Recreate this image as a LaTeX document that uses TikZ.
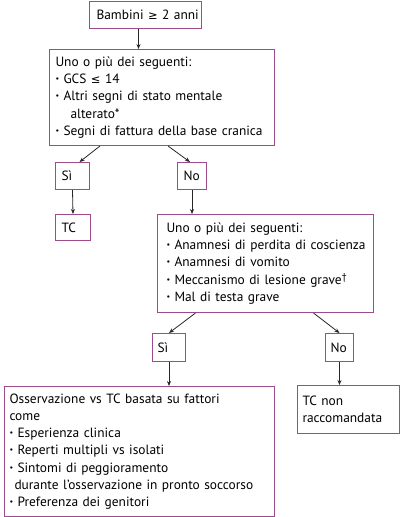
\documentclass[tikz,border=0pt]{standalone}
\usepackage{fontspec}
\setmainfont{PT Sans}
\newfontfamily\symfont{DejaVu Sans}
\usetikzlibrary{arrows.meta,calc}
\definecolor{boxline}{RGB}{160,74,142}
\newcommand{\blt}{\makebox[8pt][l]{\raisebox{0.3ex}{\scalebox{0.6}{•}}}}
\newcommand{\relsym}[1]{{\symfont\fontsize{11.5}{17}\selectfont #1}}
\begin{document}
\begin{tikzpicture}[x=1pt,y=-1pt,
    box/.style={draw=boxline,line width=1pt,fill=white,anchor=north west,
      inner xsep=6pt,inner ysep=0pt,align=left,
      font=\fontsize{13.4}{17.2}\selectfont},
    arr/.style={draw=black!85,line width=0.8pt,-{Stealth[length=5pt,width=4pt]}}]
  \useasboundingbox (0,0) rectangle (400,517);

  \node[box,text width=98pt,minimum height=27pt,inner xsep=7pt] (start) at (89,1)
    {\mbox{Bambini \relsym{≥} 2 anni}};

  \node[box,text width=213pt,minimum height=96pt] (crit1) at (49,49)
    {\mbox{Uno o più dei seguenti:}\\
     \mbox{\blt GCS \relsym{≤} 14}\\
     \mbox{\blt Altri segni di stato mentale}\\
     \hspace*{15pt}alterato*\\
     \mbox{\blt Segni di fattura della base cranica}};

  \node[box,text width=22pt,minimum height=27pt] (si1) at (55,162) {Sì};
  \node[box,text width=17pt,minimum height=27pt] (no1) at (177,162) {No};
  \node[box,text width=23pt,minimum height=26pt] (tc1) at (55,214) {TC};

  \node[box,text width=198pt,minimum height=98pt,inner xsep=9pt] (crit2) at (157,214)
    {\mbox{Uno o più dei seguenti:}\\
     \mbox{\blt Anamnesi di perdita di coscienza}\\
     \mbox{\blt Anamnesi di vomito}\\
     \mbox{\blt Meccanismo di lesione grave\raisebox{3.5pt}{\fontsize{10}{10}\selectfont †}}\\
     \mbox{\blt Mal di testa grave}};

  \node[box,text width=23pt,minimum height=28pt,inner xsep=5pt] (si2) at (152,333) {Sì};
  \node[box,text width=18pt,minimum height=28pt,inner xsep=5pt] (no2) at (325,333) {No};

  \node[box,text width=260pt,minimum height=130pt,inner xsep=5pt] (obs) at (4,386)
    {\mbox{Osservazione vs TC basata su fattori}\\
     come\\
     \mbox{\blt Esperienza clinica}\\
     \mbox{\blt Reperti multipli vs isolati}\\
     \mbox{\blt Sintomi di peggioramento}\\
     \mbox{\hspace*{5pt}durante l'osservazione in pronto soccorso}\\
     \mbox{\blt Preferenza dei genitori}};

  \node[box,text width=92pt,minimum height=48pt,inner xsep=5pt] (tcno) at (297,385)
    {TC non\\ \mbox{raccomandata}};

  % connettori
  \draw[arr] ($(start.south)+(-7,0)$) -- ($(crit1.north)+(-23.5,0)$);
  \draw[arr] ($(crit1.south)+(-62,0)$) -- ($(si1.north)+(7,0)$);
  \draw[arr] ($(crit1.south)+(6,0)$) -- ($(no1.north)+(-2,0)$);
  \draw[arr] (si1.south) -- (tc1.north);
  \draw[arr] (no1.south) -- (no1.south |- crit2.north);
  \draw[arr] ($(crit2.south)+(-70,0)$) -- (si2.north);
  \draw[arr] ($(crit2.south)+(48,0)$) -- (no2.north);
  \draw[arr] (si2.south) -- (si2.south |- obs.north);
  \draw[arr] (no2.south) -- (no2.south |- tcno.north);
\end{tikzpicture}
\end{document}
